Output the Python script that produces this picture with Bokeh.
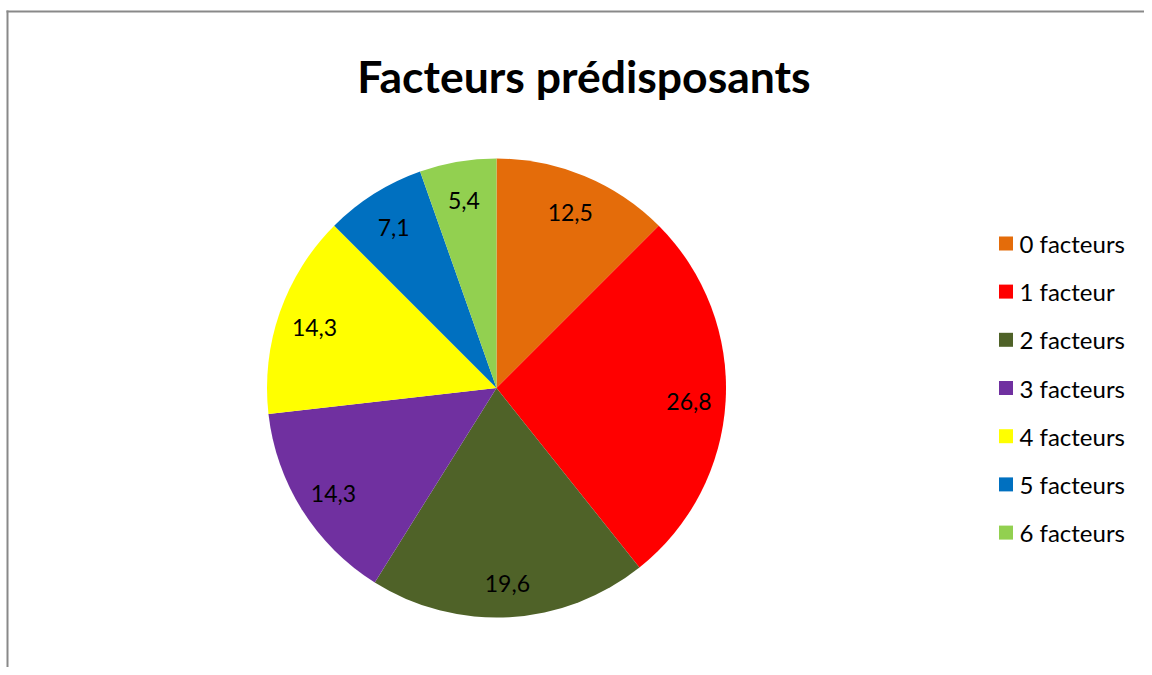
import math
from bokeh.plotting import figure
from bokeh.models import Range1d, ColumnDataSource, Label, BoxAnnotation
from bokeh.core.properties import value
from bokeh.embed import file_html
from bokeh.resources import INLINE

# ---- data ----
categories = ["0 facteurs", "1 facteur", "2 facteurs", "3 facteurs",
              "4 facteurs", "5 facteurs", "6 facteurs"]
values = [12.5, 26.8, 19.6, 14.3, 14.3, 7.1, 5.4]
colors = ["#E46C0A", "#FF0000", "#4F6228", "#7030A0",
          "#FFFF00", "#0070C0", "#92D050"]
title_text = "Facteurs prédisposants"

# ---- layout (data units == pixels, y up) ----
W, H = 1144, 667
CX, CY, R = 496, H - 387.5, 229.5
LABEL_R = 0.84 * R
LEG_X, LEG_TXT_X, LEG_PITCH = 1005.5, 1019, 48.2
FONT = "Lato"

total = sum(values)
starts, ends, lx, ly, labels = [], [], [], [], []
cum = 0.0
for v in values:
    f0 = cum / total
    cum += v
    f1 = cum / total
    starts.append(math.pi / 2 - f0 * 2 * math.pi)
    ends.append(math.pi / 2 - f1 * 2 * math.pi)
    mid = (f0 + f1) / 2 * 2 * math.pi
    lx.append(CX + LABEL_R * math.sin(mid))
    ly.append(CY + LABEL_R * math.cos(mid))
    labels.append(f"{v:.1f}".replace(".", ","))

n = len(categories)
leg_y = [CY + ((n - 1) / 2 - i) * LEG_PITCH for i in range(n)]

src = ColumnDataSource(dict(cat=categories, val=values, color=colors,
                            start=starts, end=ends, lx=lx, ly=ly, lab=labels,
                            legx=[LEG_X] * n, legtx=[LEG_TXT_X] * n, legy=leg_y))

p = figure(width=W, height=H, output_backend="svg", toolbar_location=None,
           x_range=Range1d(0, W), y_range=Range1d(0, H),
           min_border=0)
p.axis.visible = False
p.grid.visible = False
p.outline_line_color = None
p.background_fill_color = "white"
p.border_fill_color = "white"

# chart border (only top/left visible, like the cropped reference)
BORDER = "#898989"
p.add_layout(BoxAnnotation(left=6, right=8, top=H - 10, bottom=None,
                           fill_color=BORDER, fill_alpha=1,
                           line_color=None))
p.add_layout(BoxAnnotation(left=6, right=None, top=H - 10, bottom=H - 12,
                           fill_color=BORDER, fill_alpha=1,
                           line_color=None))

p.wedge(x=CX, y=CY, radius=R, start_angle="start", end_angle="end",
        direction="clock", fill_color="color", line_color=None, source=src)

p.text(x="lx", y="ly", text="lab", source=src, text_align="center",
       text_baseline="middle", text_font=value(FONT), y_offset=3,
       text_font_size="23px", text_color="black")

p.scatter(x="legx", y="legy", marker="square", size=14, fill_color="color",
          line_color=None, source=src)
p.text(x="legtx", y="legy", text="cat", source=src, text_align="left",
       text_baseline="middle", text_font=value(FONT),
       text_font_size="24px", text_color="black")

p.add_layout(Label(x=583.5, y=H - 75, text=title_text, text_align="center",
                   text_baseline="alphabetic", text_font=FONT,
                   text_font_size="44.5px", text_font_style="bold",
                   text_color="black"))

open("out.html", "w").write(file_html(p, INLINE))
